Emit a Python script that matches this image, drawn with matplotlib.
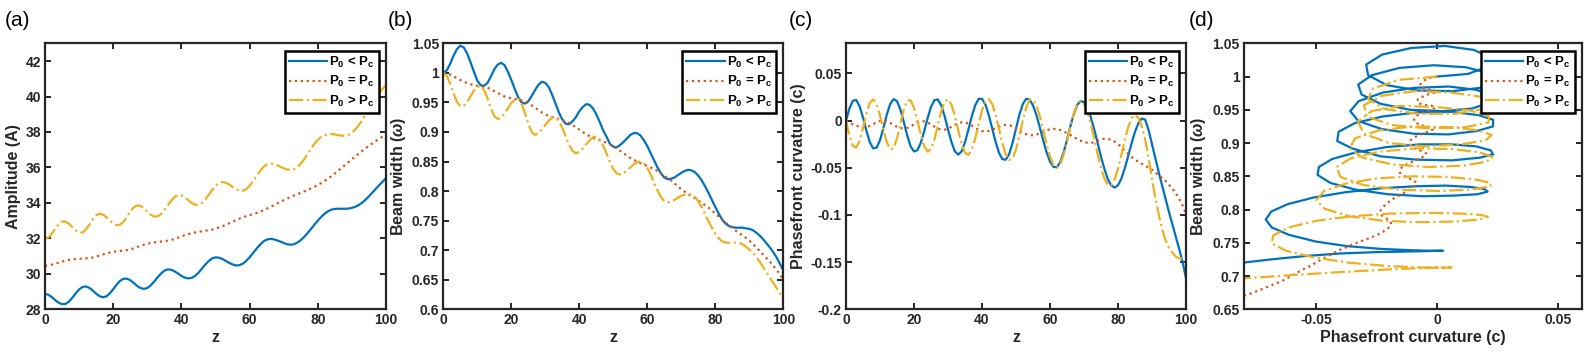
import numpy as np
import matplotlib
matplotlib.use("Agg")
import matplotlib.pyplot as plt
from matplotlib.ticker import FuncFormatter

# propagation distance (samples)
z = list(range(101))

# amplitude A(z)
amp_lo = [28.87, 28.82, 28.69, 28.52, 28.37, 28.29, 28.30, 28.43, 28.65, 28.90,
          29.12, 29.26, 29.29, 29.21, 29.06, 28.88, 28.74, 28.68, 28.73, 28.90,
          29.13, 29.39, 29.60, 29.72, 29.73, 29.64, 29.49, 29.32, 29.20, 29.15,
          29.20, 29.35, 29.56, 29.80, 30.01, 30.18, 30.25, 30.23, 30.14, 30.02,
          29.88, 29.79, 29.74, 29.77, 29.88, 30.06, 30.29, 30.52, 30.72, 30.87,
          30.93, 30.91, 30.84, 30.73, 30.62, 30.53, 30.47, 30.49, 30.57, 30.73,
          30.93, 31.17, 31.41, 31.63, 31.82, 31.93, 31.97, 31.95, 31.89, 31.82,
          31.74, 31.67, 31.64, 31.67, 31.76, 31.90, 32.08, 32.30, 32.53, 32.77,
          33.00, 33.21, 33.39, 33.53, 33.62, 33.66, 33.67, 33.67, 33.67, 33.68,
          33.72, 33.78, 33.88, 34.01, 34.18, 34.37, 34.58, 34.79, 35.00, 35.19,
          35.40]
amp_eq = [30.46, 30.48, 30.52, 30.57, 30.63, 30.69, 30.74, 30.78, 30.81, 30.83,
          30.85, 30.86, 30.87, 30.89, 30.92, 30.97, 31.03, 31.09, 31.15, 31.20,
          31.24, 31.27, 31.29, 31.31, 31.34, 31.38, 31.44, 31.51, 31.58, 31.64,
          31.69, 31.73, 31.77, 31.80, 31.82, 31.84, 31.87, 31.91, 31.97, 32.04,
          32.11, 32.18, 32.24, 32.29, 32.33, 32.37, 32.40, 32.43, 32.46, 32.50,
          32.55, 32.61, 32.68, 32.76, 32.85, 32.94, 33.03, 33.11, 33.18, 33.25,
          33.31, 33.37, 33.43, 33.50, 33.58, 33.67, 33.76, 33.86, 33.96, 34.06,
          34.15, 34.24, 34.33, 34.41, 34.49, 34.57, 34.65, 34.73, 34.82, 34.91,
          35.01, 35.12, 35.24, 35.37, 35.51, 35.66, 35.82, 35.98, 36.14, 36.30,
          36.46, 36.62, 36.78, 36.93, 37.08, 37.22, 37.36, 37.49, 37.62, 37.74,
          37.86]
amp_hi = [31.97, 32.05, 32.26, 32.54, 32.79, 32.95, 32.95, 32.83, 32.64, 32.45,
          32.33, 32.33, 32.50, 32.77, 33.07, 33.30, 33.39, 33.34, 33.19, 33.01,
          32.84, 32.75, 32.77, 32.93, 33.21, 33.51, 33.75, 33.86, 33.83, 33.69,
          33.51, 33.34, 33.23, 33.24, 33.36, 33.58, 33.86, 34.13, 34.34, 34.44,
          34.43, 34.32, 34.16, 34.00, 33.90, 33.89, 33.99, 34.19, 34.45, 34.72,
          34.96, 35.12, 35.18, 35.14, 35.04, 34.90, 34.77, 34.68, 34.68, 34.77,
          34.96, 35.22, 35.50, 35.79, 36.01, 36.17, 36.22, 36.20, 36.13, 36.04,
          35.95, 35.88, 35.86, 35.90, 36.02, 36.21, 36.46, 36.75, 37.05, 37.33,
          37.56, 37.72, 37.82, 37.87, 37.88, 37.86, 37.82, 37.79, 37.79, 37.84,
          37.96, 38.14, 38.38, 38.66, 38.97, 39.29, 39.61, 39.92, 40.20, 40.44,
          40.65]

# beam width w(z)
w_lo = [1.000, 1.004, 1.015, 1.029, 1.040, 1.046, 1.043, 1.033, 1.018, 1.002,
        0.987, 0.979, 0.978, 0.983, 0.994, 1.006, 1.014, 1.017, 1.013, 1.002,
        0.988, 0.973, 0.959, 0.950, 0.948, 0.952, 0.961, 0.971, 0.980, 0.985,
        0.983, 0.976, 0.963, 0.948, 0.933, 0.921, 0.914, 0.913, 0.918, 0.925,
        0.935, 0.942, 0.947, 0.946, 0.940, 0.930, 0.917, 0.903, 0.892, 0.880,
        0.875, 0.874, 0.878, 0.883, 0.889, 0.895, 0.898, 0.898, 0.894, 0.886,
        0.876, 0.864, 0.852, 0.840, 0.830, 0.823, 0.820, 0.821, 0.823, 0.827,
        0.831, 0.834, 0.836, 0.835, 0.832, 0.826, 0.818, 0.808, 0.797, 0.785,
        0.773, 0.762, 0.752, 0.745, 0.741, 0.739, 0.738, 0.738, 0.738, 0.737,
        0.736, 0.734, 0.730, 0.725, 0.719, 0.712, 0.705, 0.697, 0.688, 0.677,
        0.666]
w_eq = [1.000, 0.999, 0.997, 0.994, 0.991, 0.988, 0.985, 0.983, 0.981, 0.979,
        0.978, 0.977, 0.976, 0.975, 0.972, 0.969, 0.966, 0.963, 0.960, 0.958,
        0.957, 0.956, 0.955, 0.953, 0.951, 0.948, 0.945, 0.941, 0.937, 0.933,
        0.930, 0.927, 0.925, 0.923, 0.922, 0.920, 0.918, 0.915, 0.912, 0.908,
        0.904, 0.900, 0.896, 0.893, 0.890, 0.888, 0.886, 0.884, 0.882, 0.879,
        0.876, 0.872, 0.868, 0.864, 0.860, 0.856, 0.853, 0.850, 0.847, 0.845,
        0.842, 0.840, 0.837, 0.834, 0.830, 0.826, 0.822, 0.818, 0.813, 0.808,
        0.803, 0.799, 0.795, 0.791, 0.788, 0.784, 0.780, 0.776, 0.772, 0.767,
        0.762, 0.757, 0.752, 0.747, 0.742, 0.738, 0.733, 0.729, 0.725, 0.721,
        0.716, 0.711, 0.705, 0.699, 0.693, 0.687, 0.681, 0.674, 0.667, 0.659,
        0.650]
w_hi = [1.000, 0.995, 0.982, 0.966, 0.951, 0.944, 0.944, 0.951, 0.960, 0.970,
        0.976, 0.978, 0.971, 0.957, 0.940, 0.927, 0.922, 0.924, 0.931, 0.940,
        0.949, 0.954, 0.956, 0.948, 0.932, 0.914, 0.900, 0.895, 0.898, 0.904,
        0.912, 0.919, 0.924, 0.925, 0.919, 0.907, 0.892, 0.878, 0.868, 0.864,
        0.866, 0.872, 0.879, 0.886, 0.891, 0.892, 0.887, 0.877, 0.864, 0.849,
        0.837, 0.830, 0.828, 0.830, 0.835, 0.840, 0.845, 0.849, 0.850, 0.847,
        0.839, 0.828, 0.814, 0.801, 0.790, 0.783, 0.781, 0.782, 0.785, 0.789,
        0.792, 0.794, 0.795, 0.794, 0.790, 0.783, 0.773, 0.761, 0.749, 0.738,
        0.728, 0.720, 0.715, 0.713, 0.7125, 0.713, 0.713, 0.712, 0.710, 0.706,
        0.701, 0.696, 0.689, 0.681, 0.672, 0.663, 0.654, 0.645, 0.636, 0.627,
        0.619]

# phasefront curvature c(z)
c_lo = [0.0, 0.0128, 0.0210, 0.0219, 0.0153, 0.0033, -0.0107, -0.0228, -0.0294, -0.0286,
        -0.0208, -0.0078, 0.0064, 0.0178, 0.0228, 0.0206, 0.0118, -0.0014, -0.0156, -0.0271,
        -0.0327, -0.0313, -0.0234, -0.0112, 0.0026, 0.0146, 0.0218, 0.0224, 0.0164, 0.0048,
        -0.0094, -0.0224, -0.0325, -0.0360, -0.0326, -0.0229, -0.0096, 0.0047, 0.0163, 0.0231,
        0.0232, 0.0171, 0.0058, -0.0083, -0.0225, -0.0341, -0.0408, -0.0414, -0.0353, -0.0234,
        -0.0085, 0.0063, 0.0176, 0.0232, 0.0222, 0.0162, 0.0060, -0.0071, -0.0209, -0.0336,
        -0.0435, -0.0490, -0.0495, -0.0442, -0.0338, -0.0204, -0.0058, 0.0069, 0.0167, 0.0209,
        0.0195, 0.0135, 0.0035, -0.0091, -0.0235, -0.0381, -0.0513, -0.0620, -0.0687, -0.0710,
        -0.0685, -0.0614, -0.0504, -0.0374, -0.0239, -0.0118, -0.0027, 0.0023, 0.0010, -0.0100,
        -0.025, -0.040, -0.055, -0.069, -0.083, -0.097, -0.110, -0.123, -0.136, -0.150,
        -0.167]
c_eq = [0.0, -0.0020, -0.0039, -0.0054, -0.0064, -0.0070, -0.0068, -0.0056, -0.0037, -0.0018,
        -0.0004, 0.0000, -0.0008, -0.0024, -0.0045, -0.0065, -0.0079, -0.0083, -0.0076, -0.0061,
        -0.0040, -0.0021, -0.0009, -0.0008, -0.0019, -0.0039, -0.0063, -0.0084, -0.0095, -0.0096,
        -0.0085, -0.0066, -0.0046, -0.0028, -0.0018, -0.0019, -0.0031, -0.0052, -0.0076, -0.0097,
        -0.0111, -0.0115, -0.0109, -0.0096, -0.0080, -0.0064, -0.0051, -0.0045, -0.0048, -0.0060,
        -0.0080, -0.0103, -0.0126, -0.0144, -0.0154, -0.0155, -0.0148, -0.0135, -0.0118, -0.0103,
        -0.0091, -0.0087, -0.0090, -0.0099, -0.0114, -0.0132, -0.0153, -0.0174, -0.0195, -0.0212,
        -0.0226, -0.0234, -0.0236, -0.0229, -0.0215, -0.0200, -0.0191, -0.0193, -0.0203, -0.0222,
        -0.0248, -0.0280, -0.0318, -0.0354, -0.0385, -0.0412, -0.0436, -0.0458, -0.0479, -0.0499,
        -0.0520, -0.0550, -0.0580, -0.0610, -0.0640, -0.0680, -0.0720, -0.0770, -0.0830, -0.0900,
        -0.0990]
c_hi = [0.0, -0.0160, -0.0266, -0.0286, -0.0215, -0.0079, 0.0074, 0.0189, 0.0226, 0.0175,
        0.0056, -0.0095, -0.0230, -0.0303, -0.0292, -0.0188, -0.0033, 0.0119, 0.0213, 0.0215,
        0.0136, 0.0001, -0.0150, -0.0272, -0.0328, -0.0303, -0.0199, -0.0051, 0.0097, 0.0200,
        0.0226, 0.0172, 0.0051, -0.0099, -0.0243, -0.0340, -0.0363, -0.0308, -0.0188, -0.0037,
        0.0107, 0.0204, 0.0229, 0.0177, 0.0060, -0.0087, -0.0241, -0.0358, -0.0417, -0.0400,
        -0.0306, -0.0161, 0.0003, 0.0140, 0.0220, 0.0222, 0.0161, 0.0048, -0.0097, -0.0248,
        -0.0379, -0.0469, -0.0500, -0.0465, -0.0365, -0.0224, -0.0066, 0.0076, 0.0175, 0.0210,
        0.0180, 0.0097, -0.0034, -0.0190, -0.0353, -0.0503, -0.0615, -0.0679, -0.0685, -0.0626,
        -0.0509, -0.0363, -0.0204, -0.0068, 0.0026, 0.0060, 0.0030, -0.0060, -0.0200, -0.0400,
        -0.0620, -0.0820, -0.1000, -0.1150, -0.1270, -0.1350, -0.1400, -0.1440, -0.1460, -0.1460,
        -0.1430]

labels = ['P$_0$ < P$_c$', 'P$_0$ = P$_c$', 'P$_0$ > P$_c$']
colors = ['#0072BD', '#D95319', '#EDB120']
styles = ['-', ':', '-.']
panel_tags = ['(a)', '(b)', '(c)', '(d)']

plt.rcParams['font.family'] = ['Liberation Sans', 'DejaVu Sans']
plt.rcParams['font.weight'] = 'bold'
plt.rcParams['axes.labelweight'] = 'bold'
plt.rcParams['mathtext.fontset'] = 'custom'
plt.rcParams['mathtext.rm'] = 'Liberation Sans:bold'
plt.rcParams['mathtext.bf'] = 'Liberation Sans:bold'
plt.rcParams['mathtext.it'] = 'Liberation Sans:italic'
plt.rcParams['mathtext.default'] = 'bf'

W, H = 1590, 357
fig = plt.figure(figsize=(W / 100, H / 100), dpi=100)
dark = '#262626'


def fmt(v, p):
    return '%g' % (round(v, 4) + 0.0)


def make_ax(left_px, width_px):
    ax = fig.add_axes([left_px / W, (H - 309.3) / H, width_px / W, 266 / H])
    for s in ax.spines.values():
        s.set_linewidth(1.6)
        s.set_color(dark)
    ax.tick_params(direction='in', top=True, right=True, length=4, width=1.4,
                   labelsize=10, colors=dark, pad=3)
    ax.yaxis.set_major_formatter(FuncFormatter(fmt))
    ax.xaxis.set_major_formatter(FuncFormatter(fmt))
    return ax


def finish(ax):
    for t in ax.get_xticklabels() + ax.get_yticklabels():
        t.set_fontweight('bold')
    leg = ax.legend(labels, loc='upper right', fontsize=9.5, frameon=True, fancybox=False,
                    edgecolor='black', framealpha=1, handlelength=2.9, handletextpad=0.15,
                    labelspacing=0.35, borderpad=0.3, borderaxespad=0.55)
    leg.get_frame().set_linewidth(1.8)
    for t in leg.get_texts():
        t.set_fontweight('bold')


ax_a = make_ax(45, 341)
ax_b = make_ax(443.3, 340)
ax_c = make_ax(846, 340)
ax_d = make_ax(1244, 338)

lab = dict(fontsize=11.5, fontweight='bold', color=dark)
line_kw = dict(lw=1.6, solid_joinstyle='round', dash_joinstyle='round')

for ys, col, ls in zip([amp_lo, amp_eq, amp_hi], colors, styles):
    ax_a.plot(z, ys, color=col, ls=ls, **line_kw)
ax_a.set_xlim(0, 100)
ax_a.set_ylim(28, 43)
ax_a.set_yticks(np.arange(28, 43, 2))
ax_a.set_xlabel('z', labelpad=2, **lab)
ax_a.set_ylabel('Amplitude (A)', labelpad=3, **lab)

for ys, col, ls in zip([w_lo, w_eq, w_hi], colors, styles):
    ax_b.plot(z, ys, color=col, ls=ls, **line_kw)
ax_b.set_xlim(0, 100)
ax_b.set_ylim(0.6, 1.05)
ax_b.set_yticks(np.arange(0.6, 1.051, 0.05))
ax_b.set_xlabel('z', labelpad=2, **lab)
ax_b.set_ylabel(r'Beam width ($\mathit{\omega}$)', labelpad=3, **lab)

for ys, col, ls in zip([c_lo, c_eq, c_hi], colors, styles):
    ax_c.plot(z, ys, color=col, ls=ls, **line_kw)
ax_c.set_xlim(0, 100)
ax_c.set_ylim(-0.2, 0.082)
ax_c.set_yticks(np.arange(-0.2, 0.051, 0.05))
ax_c.set_xlabel('z', labelpad=2, **lab)
ax_c.set_ylabel('Phasefront curvature (c)', labelpad=3, **lab)

for xs, ys, col, ls in zip([c_lo, c_eq, c_hi], [w_lo, w_eq, w_hi], colors, styles):
    ax_d.plot(xs, ys, color=col, ls=ls, **line_kw)
ax_d.set_xlim(-0.08, 0.06)
ax_d.set_ylim(0.65, 1.05)
ax_d.set_xticks([-0.05, 0, 0.05])
ax_d.set_yticks(np.arange(0.65, 1.051, 0.05))
ax_d.set_xlabel('Phasefront curvature (c)', labelpad=2, **lab)
ax_d.set_ylabel(r'Beam width ($\mathit{\omega}$)', labelpad=3, **lab)

for ax in (ax_a, ax_b, ax_c, ax_d):
    finish(ax)

for tag, xpx in zip(panel_tags, [5, 388, 789, 1189]):
    fig.text(xpx / W, 1 - 20 / H, tag, fontsize=15, fontweight='normal',
             ha='left', va='center', color='black')

fig.savefig('out.png', dpi=100)
